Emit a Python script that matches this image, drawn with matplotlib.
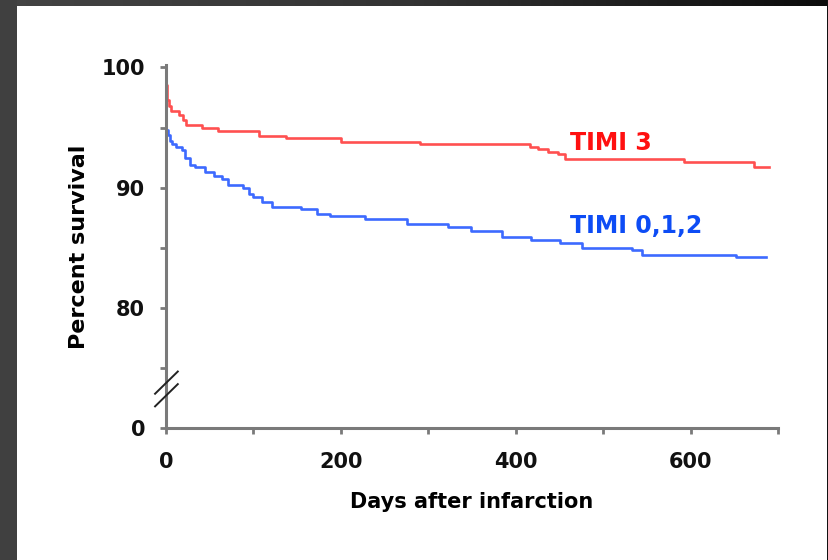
import numpy as np
import matplotlib
matplotlib.use("Agg")
import matplotlib.pyplot as plt
from matplotlib.colors import LinearSegmentedColormap
from matplotlib.patches import Rectangle

# Kaplan-Meier style steps (day the level starts, percent survival)
timi3_days = [0, 0.5, 1, 3, 6, 15, 19, 23, 41, 60, 106, 137, 200, 290, 416, 425, 437, 448, 456, 593, 673, 690]
timi3_surv = [100, 98.5, 97.3, 96.8, 96.4, 96.0, 95.6, 95.2, 95.0, 94.75, 94.3, 94.1, 93.8, 93.6, 93.4, 93.2, 93.0, 92.8, 92.4, 92.1, 91.75, 91.75]

timi012_days = [0, 2, 5, 7, 12, 18, 22, 27, 33, 45, 55, 64, 71, 88, 95, 100, 110, 121, 154, 173, 188, 228, 276, 322, 349, 384, 418, 451, 476, 533, 545, 652, 686]
timi012_surv = [94.8, 94.4, 93.9, 93.6, 93.4, 93.1, 92.5, 91.9, 91.7, 91.3, 91.0, 90.7, 90.2, 90.0, 89.5, 89.2, 88.8, 88.4, 88.2, 87.8, 87.6, 87.4, 87.0, 86.75, 86.4, 85.9, 85.6, 85.4, 85.0, 84.8, 84.4, 84.2, 84.2]

y_ticks = [70, 80, 90, 100]
y_labels = ["0", "80", "90", "100"]
x_ticks = [0, 200, 400, 600]

RED_LINE = "#ff5050"
BLUE_LINE = "#3d6aff"
RED_TXT = "#ff1010"
BLUE_TXT = "#0d4cf5"
AXIS = "#7a7a7a"

fig = plt.figure(figsize=(8.29, 5.6), dpi=100)
fig.patch.set_facecolor("white")

# dark frame round the slide
fig.patches.append(Rectangle((0, 0), 17 / 829, 1, transform=fig.transFigure,
                             facecolor="#404040", edgecolor="none", zorder=0))
fig.patches.append(Rectangle((827 / 829, 0), 2 / 829, 1, transform=fig.transFigure,
                             facecolor="#111111", edgecolor="none", zorder=0))
top = fig.add_axes([0, 1 - 6 / 560, 1, 6 / 560])
grad = LinearSegmentedColormap.from_list("g", ["#444444", "#333333", "#0c0c0c"])
top.imshow(np.linspace(0, 1, 256)[None, :], aspect="auto", cmap=grad)
top.axis("off")

ax = fig.add_axes([166 / 829, 132 / 560, 612 / 829, 363 / 560])
ax.step(timi3_days, timi3_surv, where="post", color=RED_LINE, lw=1.9, clip_on=False)
ax.step(timi012_days, timi012_surv, where="post", color=BLUE_LINE, lw=1.9, clip_on=False)

ax.set_xlim(0, 700)
ax.set_ylim(70, 100.2)

for s in ["top", "right"]:
    ax.spines[s].set_visible(False)
for s in ["left", "bottom"]:
    ax.spines[s].set_color(AXIS)
    ax.spines[s].set_linewidth(2.2)

ax.set_yticks(y_ticks)
ax.set_yticklabels(y_labels)
ax.set_yticks([75, 85, 95], minor=True)
ax.set_xticks(x_ticks)
ax.set_xticks([100, 300, 500, 700], minor=True)
ax.tick_params(which="both", direction="out", length=4, width=2, color=AXIS)
ax.tick_params(axis="y", which="major", pad=11, labelsize=15)
ax.tick_params(axis="x", which="major", pad=13, labelsize=15)
for lab in ax.get_xticklabels() + ax.get_yticklabels():
    lab.set_fontweight("bold")
    lab.set_color("#111111")

# axis break marks between 0 and 75
for y0 in [71.8, 72.85]:
    ax.plot([-12.5, 13.5], [y0, y0 + 1.85], color="#222222", lw=1.4,
            clip_on=False, zorder=5)

ax.set_ylabel("Percent survival", fontsize=16, fontweight="bold", labelpad=9)
ax.set_xlabel("Days after infarction", fontsize=15, fontweight="bold", labelpad=15)

ax.text(462, 93.75, "TIMI 3", color=RED_TXT, fontsize=17, fontweight="bold",
        ha="left", va="center")
ax.text(462, 86.8, "TIMI 0,1,2", color=BLUE_TXT, fontsize=17, fontweight="bold",
        ha="left", va="center")

fig.savefig("out.png", dpi=100)
